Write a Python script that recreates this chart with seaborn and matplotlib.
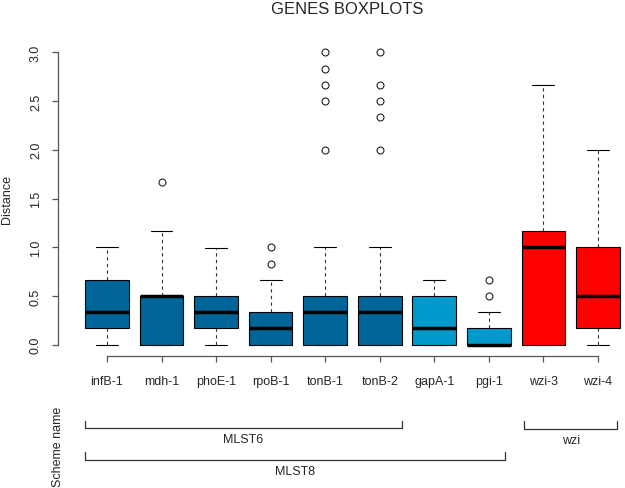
import matplotlib
matplotlib.use("Agg")
import matplotlib.pyplot as plt
import seaborn as sns
import pandas as pd

# distances per gene (steps of ~1/6)
genes = ["infB-1", "mdh-1", "phoE-1", "rpoB-1", "tonB-1",
         "tonB-2", "gapA-1", "pgi-1", "wzi-3", "wzi-4"]

infB_1 = [0, 0.167, 0.167, 0.333, 0.333, 0.5, 0.667, 0.833, 1.0]
mdh_1 = [0, 0, 0, 0, 0.167, 0.333, 0.5, 0.5, 0.5, 0.5, 0.833, 1.167, 1.667]
phoE_1 = [0, 0.167, 0.167, 0.333, 0.333, 0.333, 0.5, 0.667, 0.995]
rpoB_1 = [0, 0, 0, 0, 0, 0.167, 0.167, 0.167, 0.333, 0.333, 0.667, 0.833, 1.0]
tonB_1 = [0, 0, 0, 0, 0, 0, 0, 0.167, 0.167, 0.333, 0.333, 0.333, 0.333,
          0.333, 0.5, 0.5, 0.5, 0.5, 0.5, 1.0, 2.0, 2.5, 2.667, 2.833, 3.0]
tonB_2 = [0, 0, 0, 0, 0, 0, 0, 0.167, 0.167, 0.333, 0.333, 0.333, 0.333,
          0.333, 0.5, 0.5, 0.5, 0.5, 0.5, 1.0, 2.0, 2.333, 2.5, 2.667, 3.0]
gapA_1 = [0, 0, 0, 0.167, 0.167, 0.333, 0.5, 0.5, 0.667]
pgi_1 = [0, 0, 0, 0, 0, 0, 0, 0.167, 0.167, 0.167, 0.333, 0.5, 0.667]
wzi_3 = [0, 0, 0, 0.5, 1.0, 1.0, 1.167, 2.0, 2.667]
wzi_4 = [0, 0.167, 0.167, 0.333, 0.5, 0.667, 1.0, 1.5, 2.0]

gene_values = [infB_1, mdh_1, phoE_1, rpoB_1, tonB_1,
               tonB_2, gapA_1, pgi_1, wzi_3, wzi_4]
gene_colors = ["#006699"] * 6 + ["#0099CC"] * 2 + ["#FF0000"] * 2

# scheme brackets: (label, first gene, last gene)
schemes = [("MLST6", "infB-1", "tonB-2"),
           ("MLST8", "infB-1", "pgi-1"),
           ("wzi", "wzi-3", "wzi-4")]

df = pd.DataFrame({
    "gene": [g for g, v in zip(genes, gene_values) for _ in v],
    "distance": [x for v in gene_values for x in v],
})

sns.set_style("white")
plt.rcParams["font.family"] = ["Liberation Sans", "DejaVu Sans"]

fig = plt.figure(figsize=(6.25, 4.89), dpi=100)
ax = fig.add_axes([0.0926, 0.2691, 0.9426, 0.6458])

sns.boxplot(data=df, x="gene", y="distance", hue="gene", order=genes,
            hue_order=genes, palette=gene_colors, saturation=1, width=0.8,
            linecolor="black", linewidth=0.8, legend=False, ax=ax,
            whiskerprops=dict(linestyle=(0, (3, 3)), color="#333333"),
            medianprops=dict(linewidth=2.5, color="black"),
            flierprops=dict(marker="o", markersize=5, markerfacecolor="none",
                            markeredgecolor="#222222", markeredgewidth=0.8))

ax.set_xlim(-0.9, 9.9)
ax.set_ylim(-0.12, 3.12)
ax.set_yticks([0, 0.5, 1.0, 1.5, 2.0, 2.5, 3.0])
ax.set_yticklabels(["0.0", "0.5", "1.0", "1.5", "2.0", "2.5", "3.0"],
                   rotation=90, va="center")
ax.set_xlabel("")
ax.set_ylabel("Distance", fontsize=9, labelpad=12)

for side in ["top", "right"]:
    ax.spines[side].set_visible(False)
ax.spines["left"].set_bounds(0, 3)
ax.spines["bottom"].set_bounds(0, len(genes) - 1)
for side in ["left", "bottom"]:
    ax.spines[side].set_color("#555555")
    ax.spines[side].set_linewidth(0.9)
ax.tick_params(axis="both", direction="out", length=4.5, width=0.9,
               color="#555555", labelsize=9, left=True, bottom=True)
ax.tick_params(axis="y", pad=7)
ax.tick_params(axis="x", pad=9)

fig.text(0.556, 0.981, "GENES BOXPLOTS", ha="center", va="center", fontsize=12)
fig.text(0.093, 0.087, "Scheme name", ha="center", va="center",
         rotation=90, fontsize=9)

# brackets below the axis, y in axes fraction
tr = ax.get_xaxis_transform()
bracket_y = {"MLST6": -0.227, "MLST8": -0.328, "wzi": -0.23}
for name, first, last in schemes:
    x0 = genes.index(first) - 0.4
    x1 = genes.index(last) + (0.3 if name == "MLST8" else 0.4)
    if name == "wzi":
        x0, x1 = x0 + 0.05, x1 - 0.05
    yb = bracket_y[name]
    ax.plot([x0, x0, x1, x1], [yb + 0.024, yb, yb, yb + 0.024],
            transform=tr, clip_on=False, color="#333333", lw=0.9)
    ax.text((x0 + x1) / 2, yb - 0.035, name, transform=tr, ha="center",
            va="center", fontsize=9)

fig.savefig("out.png", dpi=100)
